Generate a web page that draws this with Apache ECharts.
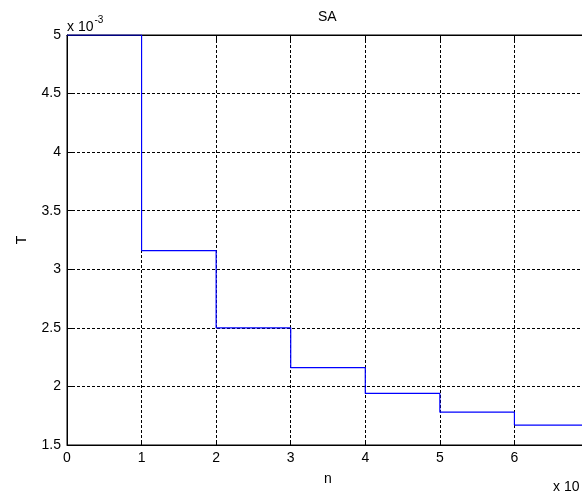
<!DOCTYPE html>
<html>
<head>
<meta charset="utf-8">
<script src="https://cdn.jsdelivr.net/npm/echarts@6/dist/echarts.min.js"></script>
<style>
  html, body { margin: 0; padding: 0; background: #fff; }
  #chart { width: 582px; height: 495px; }
</style>
</head>
<body>
<div id="chart"></div>
<script>
// Temperature schedule of the SA run: one level per step of n (mantissas, scaled by 10^-3).
const nValues = [0, 1, 2, 3, 4, 5, 6, 7];
const tValues = [5.0, 3.16, 2.50, 2.16, 1.94, 1.78, 1.67, 1.67];
const yTicks = [1.5, 2, 2.5, 3, 3.5, 4, 4.5, 5];
const xTicks = [0, 1, 2, 3, 4, 5, 6, 7];
const titleText = 'SA';
const xName = 'n';
const yName = 'T';
const yExponent = '-3';

const FONT = 'Liberation Sans';
const FS = 14;
// Plot box; the right edge runs past the window, as in the saved figure.
const GRID = { left: 67, top: 35, width: 522, height: 410 };

const chart = echarts.init(document.getElementById('chart'), null, { renderer: 'canvas' });

const gridLine = { show: true, lineStyle: { color: '#000', width: 1, type: [3, 2] } };
const tickStyle = { show: true, inside: true, length: 5, lineStyle: { color: '#000' } };
const labelStyle = { show: true, margin: 6, fontFamily: FONT, fontSize: FS, color: '#000',
                     showMaxLabel: true, showMinLabel: true, hideOverlap: false };

chart.setOption({
  animation: false,
  backgroundColor: '#fff',
  grid: Object.assign({ show: true, borderColor: '#000', borderWidth: 1, backgroundColor: '#fff',
                        outerBoundsMode: 'none', containLabel: false }, GRID),
  xAxis: [{
    type: 'value',
    position: 'bottom',
    min: xTicks[0],
    max: xTicks[xTicks.length - 1],
    interval: 1,
    name: xName,
    nameLocation: 'middle',
    nameGap: 27,
    nameTextStyle: { fontFamily: FONT, fontSize: FS, color: '#000' },
    axisLine: { show: true, onZero: false, lineStyle: { color: '#000', width: 1 } },
    axisTick: tickStyle,
    axisLabel: labelStyle,
    splitLine: gridLine
  }, {
    type: 'value',
    position: 'top',
    min: xTicks[0],
    max: xTicks[xTicks.length - 1],
    interval: 1,
    axisLine: { show: true, onZero: false, lineStyle: { color: '#000', width: 1 } },
    axisTick: tickStyle,
    axisLabel: { show: false },
    splitLine: { show: false }
  }],
  yAxis: {
    type: 'value',
    min: yTicks[0],
    max: yTicks[yTicks.length - 1],
    interval: 0.5,
    name: yName,
    nameLocation: 'middle',
    nameGap: 38,
    nameRotate: 90,
    nameTextStyle: { fontFamily: FONT, fontSize: FS, color: '#000' },
    axisLine: { show: true, onZero: false, lineStyle: { color: '#000', width: 1 } },
    axisTick: tickStyle,
    axisLabel: labelStyle,
    splitLine: gridLine
  },
  series: [{
    type: 'line',
    step: 'end',
    showSymbol: false,
    xAxisIndex: 0,
    zlevel: 1,
    z: 5,
    data: nValues.map((n, i) => [n, tValues[i]]),
    lineStyle: { color: '#0000ff', width: 1.2 },
    itemStyle: { color: '#0000ff' },
    clip: true
  }],
  graphic: [{
    type: 'text',
    left: 318,
    top: 10,
    style: { text: titleText, font: FS + 'px "' + FONT + '"', fill: '#000' }
  }, {
    type: 'text',
    left: 67,
    top: 15,
    style: {
      text: '{b|x 10}{s|' + yExponent + '}',
      rich: {
        b: { fontFamily: FONT, fontSize: FS, fill: '#000', color: '#000', verticalAlign: 'bottom' },
        s: { fontFamily: FONT, fontSize: 10, fill: '#000', color: '#000', padding: [0, 0, 9, 1] }
      }
    }
  }, {
    type: 'text',
    left: 553,
    top: 480,
    style: { text: 'x 10', font: FS + 'px "' + FONT + '"', fill: '#000' }
  }]
});
</script>
</body>
</html>
